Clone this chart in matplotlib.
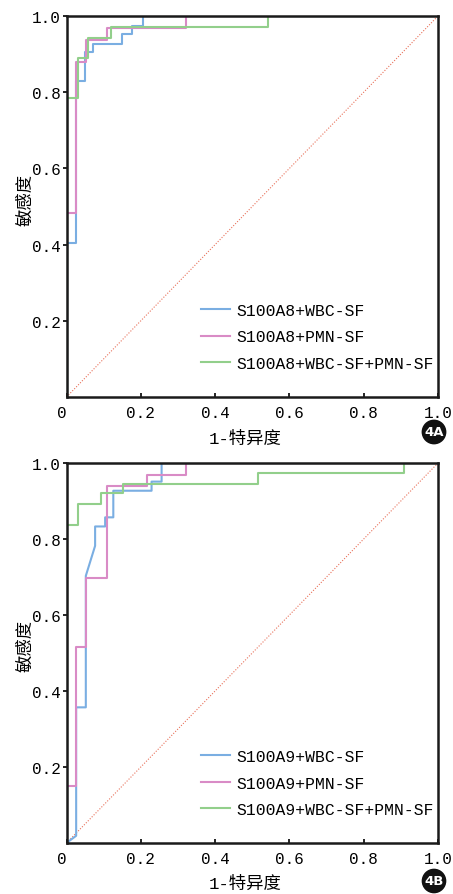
"""
图4 S100A8/S100A9 联合 WBC-SF、PMN-SF 的 ROC 曲线
"""

import matplotlib
matplotlib.use("Agg")
import matplotlib.pyplot as plt

# ============================================================
# 1. 数据（从原图读取的 ROC 拐点：1-特异度, 敏感度）
# ============================================================
# 4A: S100A8
A_WBC_FPR = [0, 0, 0.026, 0.026, 0.050, 0.050, 0.072, 0.072, 0.149, 0.149, 0.175, 0.175, 0.205, 0.205, 1]
A_WBC_TPR = [0, 0.404, 0.404, 0.830, 0.830, 0.905, 0.905, 0.927, 0.927, 0.953, 0.953, 0.975, 0.975, 1, 1]
A_PMN_FPR = [0, 0, 0.026, 0.026, 0.052, 0.052, 0.108, 0.108, 0.323, 0.323, 1]
A_PMN_TPR = [0, 0.482, 0.482, 0.878, 0.878, 0.938, 0.938, 0.968, 0.968, 1, 1]
A_ALL_FPR = [0, 0, 0.030, 0.030, 0.059, 0.059, 0.120, 0.120, 0.543, 0.543, 1]
A_ALL_TPR = [0, 0.784, 0.784, 0.889, 0.889, 0.941, 0.941, 0.970, 0.970, 1, 1]

# 4B: S100A9
B_WBC_FPR = [0, 0.026, 0.026, 0.052, 0.052, 0.077, 0.077, 0.104, 0.104, 0.126, 0.126, 0.229, 0.229, 0.256, 0.256, 1]
B_WBC_TPR = [0, 0.019, 0.357, 0.357, 0.703, 0.782, 0.833, 0.833, 0.857, 0.857, 0.927, 0.927, 0.951, 0.951, 1, 1]
B_PMN_FPR = [0, 0, 0.026, 0.026, 0.052, 0.052, 0.108, 0.108, 0.216, 0.216, 0.323, 0.323, 1]
B_PMN_TPR = [0, 0.151, 0.151, 0.515, 0.515, 0.697, 0.697, 0.940, 0.940, 0.969, 0.969, 1, 1]
B_ALL_FPR = [0, 0, 0.032, 0.032, 0.092, 0.092, 0.153, 0.153, 0.516, 0.516, 0.909, 0.909, 1]
B_ALL_TPR = [0, 0.837, 0.837, 0.892, 0.892, 0.920, 0.920, 0.946, 0.946, 0.974, 0.974, 1, 1]

LABELS_A = ["S100A8+WBC-SF", "S100A8+PMN-SF", "S100A8+WBC-SF+PMN-SF"]
LABELS_B = ["S100A9+WBC-SF", "S100A9+PMN-SF", "S100A9+WBC-SF+PMN-SF"]

X_TICKS = [0, 0.2, 0.4, 0.6, 0.8, 1.0]
X_TICKLABELS = ["0", "0.2", "0.4", "0.6", "0.8", "1.0"]
Y_TICKS = [0.2, 0.4, 0.6, 0.8, 1.0]
Y_TICKLABELS = ["0.2", "0.4", "0.6", "0.8", "1.0"]

COLORS = ["#7aaee2", "#d98bc6", "#92cf8b"]
MONO = ["Liberation Mono", "Noto Sans CJK SC"]
CJK = ["Noto Sans CJK SC", "DejaVu Sans"]


# ============================================================
# 2. 绘图
# ============================================================
def draw_panel(ax, curves, labels, badge, badge_xy):
    for (fpr, tpr), label, c in zip(curves, labels, COLORS):
        ax.plot(fpr, tpr, color=c, lw=1.5, label=label, zorder=2)
    ax.plot([0, 1], [0, 1], color="#e8715a", lw=0.8, ls=(0, (1, 1.5)), zorder=1)

    ax.set_xlim(0, 1); ax.set_ylim(0, 1)
    for sp in ax.spines.values():
        sp.set_linewidth(1.8)
        sp.set_color("#1a1a1a")
        sp.set_zorder(3)

    ax.set_xticks(X_TICKS)
    ax.set_xticklabels(X_TICKLABELS, family=MONO, fontsize=11.5)
    ax.get_xticklabels()[0].set_ha("right")
    ax.set_yticks(Y_TICKS)
    ax.set_yticklabels(Y_TICKLABELS, family=MONO, fontsize=11.5)
    ax.tick_params(axis="x", direction="in", length=3, width=1.2, pad=6)
    ax.tick_params(axis="y", direction="out", length=3, width=1.2, pad=1)

    ax.set_xlabel("1-特异度", family=MONO, fontsize=12.5)
    ax.set_ylabel("敏感度", family=CJK, fontsize=12.5, fontweight="medium")
    ax.yaxis.set_label_coords(-0.085, 0.52)
    ax.xaxis.set_label_coords(0.48, -0.085)

    ax.legend(loc="upper left", bbox_to_anchor=(0.345, 0.264), frameon=False,
              prop={"family": MONO, "size": 11.8},
              handlelength=1.75, handletextpad=0.4, labelspacing=0.7,
              borderaxespad=0)

    fig.text(badge_xy[0], badge_xy[1], badge, color="white", fontsize=9.5,
             fontweight="bold", family="DejaVu Sans", ha="center", va="center",
             bbox=dict(boxstyle="circle,pad=0.2", fc="#111111", ec="none"))


fig = plt.figure(figsize=(4.53, 8.95), dpi=100)
ax_a = fig.add_axes([66.5 / 453, 1 - 398 / 895, 371.5 / 453, 381 / 895])
ax_b = fig.add_axes([66.5 / 453, 1 - 844 / 895, 371.5 / 453, 380 / 895])

draw_panel(ax_a,
           [(A_WBC_FPR, A_WBC_TPR), (A_PMN_FPR, A_PMN_TPR), (A_ALL_FPR, A_ALL_TPR)],
           LABELS_A, "4A", (434 / 453, 1 - 433 / 895))
draw_panel(ax_b,
           [(B_WBC_FPR, B_WBC_TPR), (B_PMN_FPR, B_PMN_TPR), (B_ALL_FPR, B_ALL_TPR)],
           LABELS_B, "4B", (434 / 453, 1 - 882 / 895))

fig.savefig("out.png", dpi=100)
plt.close()
